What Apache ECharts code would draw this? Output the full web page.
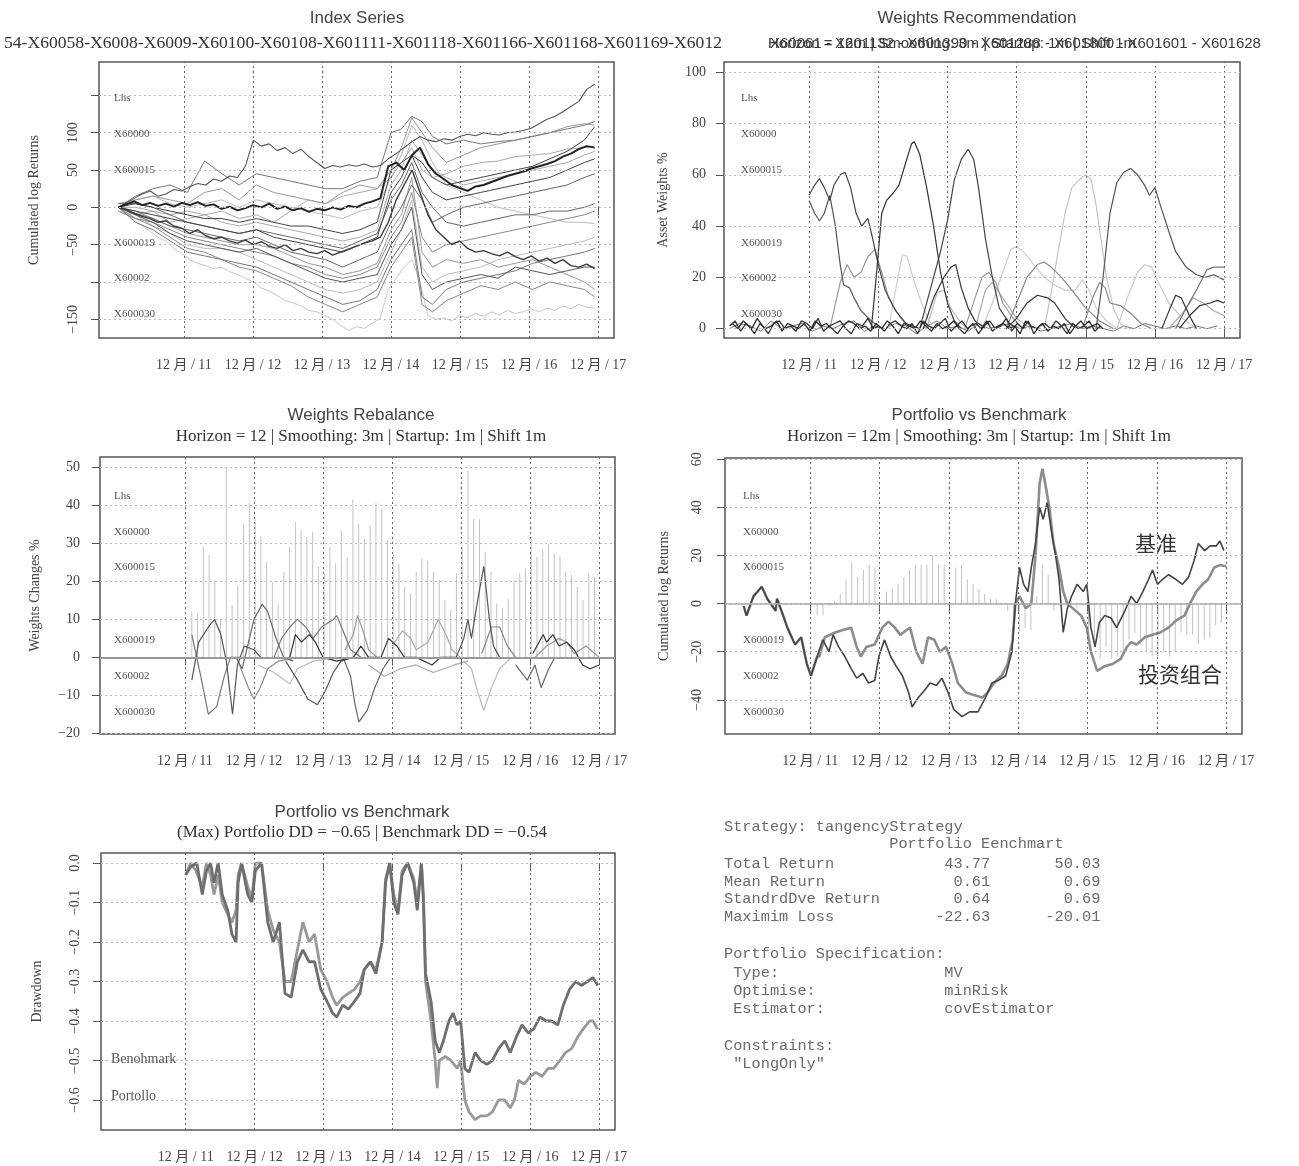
<!DOCTYPE html>
<html><head><meta charset="utf-8">
<script src="https://cdn.jsdelivr.net/npm/echarts@6/dist/echarts.min.js"></script>
<style>html,body{margin:0;padding:0;background:#fff}#c{width:1299px;height:1166px}</style>
</head><body><div id="c"></div><script>
// ---------------- DATA ----------------
const xTickYears = [11, 12, 13, 14, 15, 16, 17];

// Panel 1: Index Series (cumulated log returns)
const idxDates = [10.05,10.3,10.55,10.8,11.05,11.3,11.55,11.8,12.05,12.3,12.55,12.8,13.05,13.3,13.55,13.8,14.0,14.15,14.3,14.45,14.6,14.8,15.05,15.3,15.55,15.8,16.05,16.3,16.55,16.8,16.95];
const idxFineStart = 10.05, idxFineStep = 0.115;
const idxA = [0,6,12,18,22,15,18,24,22,28,32,30,38,35,42,40,55,90,82,85,76,80,72,78,68,60,52,56,54,57,55,58,54,56,65,72,80,88,95,90,88,92,90,95,98,96,100,98,97,100,101,103,106,112,118,122,128,135,142,158,165];
const idxC = [0,4,8,3,6,2,5,1,6,3,7,2,4,-2,1,-4,-1,3,0,5,-2,1,-4,-1,-6,-2,-4,0,-3,2,0,5,8,12,55,60,50,70,80,58,45,38,30,26,22,28,30,34,38,42,45,48,52,55,58,62,68,72,78,82,80];
const idxK = [0,-8,-18,-25,-32,-40,-45,-55,-62,-70,-75,-78,-82,-80,-86,-90,-95,-100,-108,-112,-118,-125,-128,-132,-138,-140,-145,-150,-158,-165,-160,-162,-155,-148,-110,-95,-80,-70,-100,-145,-150,-148,-152,-145,-148,-142,-146,-140,-144,-138,-142,-140,-136,-140,-135,-138,-132,-136,-130,-134,-135];
const idxS = [0,-3,-8,-12,-15,-20,-18,-25,-28,-35,-30,-38,-42,-40,-45,-48,-44,-50,-46,-52,-55,-50,-58,-55,-60,-62,-58,-64,-60,-56,-52,-48,-45,-40,-20,10,30,50,20,-10,-30,-40,-50,-45,-55,-60,-58,-62,-65,-60,-66,-70,-65,-72,-68,-75,-70,-78,-80,-76,-82];
const idxB = [0,15,25,30,20,62,45,30,45,40,35,30,25,25,35,40,100,105,122,115,95,85,90,85,88,90,95,100,105,110,115];
const idxD = [5,10,15,10,5,20,25,10,30,20,15,10,5,20,30,25,50,80,120,100,80,60,70,80,85,90,95,100,108,112,110];
const idxE = [0,-5,-10,-15,-20,-25,-30,-35,-30,-40,-45,-50,-55,-60,-50,-40,20,40,70,60,40,30,35,40,45,50,55,65,75,90,108];
const idxF = [0,-10,-5,-20,-15,-10,-5,-15,-10,-20,-5,10,5,15,20,25,40,60,80,50,40,45,55,60,62,68,70,72,78,80,82];
const idxG = [0,-8,-15,-25,-30,-35,-40,-45,-40,-50,-60,-65,-70,-80,-70,-60,-20,0,30,10,-20,-10,0,5,10,15,20,25,30,40,45];
const idxH = [-5,-15,-20,-30,-40,-45,-50,-55,-60,-65,-75,-80,-90,-95,-90,-80,-40,-20,20,-40,-60,-50,-45,-40,-35,-30,-25,-20,-15,-10,-5];
const idxI = [-5,-10,-25,-35,-50,-55,-55,-60,-70,-80,-90,-100,-110,-115,-110,-100,-60,-30,10,-80,-100,-90,-85,-80,-70,-65,-60,-55,-50,-45,-40];
const idxJ = [0,-20,-30,-45,-60,-65,-70,-75,-80,-90,-100,-110,-120,-130,-125,-110,-70,-50,-30,-120,-130,-110,-100,-95,-90,-85,-75,-70,-65,-60,-55];
const idxL = [0,-10,-20,-35,-45,-50,-55,-60,-55,-65,-75,-85,-95,-100,-95,-90,-50,-30,0,-90,-110,-100,-95,-90,-95,-80,-85,-90,-85,-80,-80];
const idxM = [0,-5,-15,-25,-35,-40,-45,-50,-50,-55,-65,-75,-80,-90,-85,-75,-30,-10,40,-60,-80,-70,-75,-70,-80,-75,-70,-80,-90,-100,-110];
const idxN = [5,5,0,-10,-20,-25,-30,-35,-30,-35,-40,-45,-50,-55,-45,-35,10,30,60,20,0,-20,-25,-20,-15,-10,-10,-5,-5,0,5];
const idxO = [0,0,-5,-10,-5,-10,-20,-25,-20,-25,-30,-35,-40,-45,-40,-30,30,50,90,70,50,40,30,35,40,45,50,55,60,70,75];
const idxP = [0,10,15,5,0,5,10,0,10,5,0,-5,-10,-15,-5,0,40,70,110,90,60,30,20,10,0,-5,-10,-15,-20,-20,-22];
const idxQ = [0,-15,-25,-40,-55,-60,-70,-80,-85,-95,-105,-120,-130,-140,-130,-120,-80,-60,-40,-130,-140,-125,-115,-105,-110,-100,-110,-100,-105,-110,-120];
const idxR = [0,5,0,-5,-10,-15,-15,-20,-15,-20,-25,-25,-30,-35,-30,-20,50,60,70,40,20,10,15,20,25,30,35,40,50,60,65];

// Panel 2: Weights Recommendation (asset weights %)
const wNoiseStart = 9.85;
const wNoiseA = [1,3,-1,2,0,4,1,-2,2,3,0,1,-1,3,2,0,4,-1,1,2,3,0,-2,2,1,4,0,1,-1,2,3,1,0,2,-2,3,1,0,2,4,-1,1,3,0,2,-2,1,3,0,1,4,-1,2,0,3,-2,1,2,0,3,1,-2,2,0,1,3,-1,1];
const wNoiseC = [2,0,3,1,-2,2,0,1,3,-1,2,1,0,2,-1,3,1,2,0,-2,1,3,2,0,1,-1,2,0,3,1,-2,2,1,0,3,1,-1,2,0,1,3,0,-2,1,2,0,3,-1,1,2,0,1,-2,3,1,0,2,-1,1,0,2,-2,1,3,0,1,2,0];
const wNoiseB = [0,2,1,-1,3,0,1,2,-1,1,0,2,3,-1,1,0,2,1,-2,1,3,0,1,-1,2,0,1,2,0,1,-1,0,1,2,0,1,0,-1,1,0,2,1,0,1,0,1,0,1];
const wRec1 = [[11.0,52],[11.08,56],[11.15,58.5],[11.22,55],[11.3,50],[11.36,56],[11.45,60],[11.52,61],[11.6,55],[11.68,45],[11.76,40],[11.85,43],[11.92,35],[12.0,25],[12.1,15],[12.25,7],[12.4,2],[12.6,0]];
const wRec2 = [[11.0,50],[11.08,45],[11.15,42],[11.22,45],[11.3,52],[11.38,40],[11.45,25],[11.5,17],[11.58,16],[11.65,12],[11.75,7],[11.9,3],[12.05,0]];
const wRec3 = [[11.9,0],[11.97,20],[12.05,45],[12.12,50],[12.22,53],[12.3,56],[12.4,65],[12.48,72],[12.52,73],[12.6,68],[12.7,55],[12.8,40],[12.9,22],[13.0,10],[13.1,3],[13.2,0]];
const wRec4 = [[12.6,0],[12.75,15],[12.9,30],[13.0,42],[13.1,58],[13.2,66],[13.3,70],[13.38,66],[13.45,55],[13.55,35],[13.65,20],[13.75,8],[13.9,2],[14.0,0]];
const wRec5 = [[14.4,0],[14.5,14],[14.6,30],[14.7,45],[14.8,55],[14.9,58],[15.0,60],[15.08,58],[15.15,48],[15.22,35],[15.3,20],[15.4,8],[15.5,2],[15.6,0]];
const wRec6 = [[15.15,0],[15.25,20],[15.35,45],[15.45,57],[15.55,61],[15.65,62.5],[15.75,60],[15.85,56],[15.92,52],[16.0,55],[16.08,48],[16.2,38],[16.3,30],[16.45,24],[16.6,21],[16.72,20],[16.85,21],[17.0,19]];
const wRec7 = [[12.15,0],[12.25,15],[12.35,29],[12.42,28],[12.5,20],[12.6,12],[12.7,5],[12.8,0]];
const wRec8 = [[11.3,0],[11.45,18],[11.55,25],[11.65,20],[11.75,22],[11.85,28],[11.95,31],[12.05,22],[12.15,12],[12.3,5],[12.45,0]];
const wRec9 = [[13.5,0],[13.65,10],[13.8,22],[13.92,31],[14.0,32],[14.1,30],[14.25,25],[14.4,20],[14.55,17],[14.7,15],[14.85,15],[14.95,19],[15.05,15],[15.15,8],[15.3,3],[15.45,0]];
const wRec10 = [[13.85,0],[14.0,10],[14.15,20],[14.3,25],[14.4,26],[14.5,24],[14.65,20],[14.8,15],[15.0,8],[15.2,3],[15.4,0]];
const wRec11 = [[12.65,0],[12.8,12],[12.95,20],[13.05,24],[13.12,25],[13.2,16],[13.3,8],[13.4,3],[13.55,0]];
const wRec12 = [[13.85,0],[14.0,4],[14.15,10],[14.3,13],[14.45,12],[14.55,10],[14.7,4],[14.85,0]];
const wRec13 = [[15.45,0],[15.6,12],[15.75,22],[15.85,25],[15.95,24],[16.05,18],[16.2,10],[16.4,4],[16.6,0]];
const wRec14 = [[16.1,0],[16.22,8],[16.3,13],[16.38,12],[16.5,5],[16.6,0]];
const wRec15 = [[16.35,0],[16.5,5],[16.65,9],[16.8,10],[16.9,11],[17.0,10]];
const wRec16 = [[13.25,0],[13.4,12],[13.5,20],[13.6,22],[13.7,18],[13.8,10],[13.95,4],[14.1,0]];
const wRec17 = [[14.95,0],[15.1,12],[15.2,18],[15.28,16],[15.35,10],[15.5,9],[15.65,6],[15.8,2],[15.95,0]];
const wRec18 = [[16.2,0],[16.4,6],[16.55,12],[16.7,10],[16.85,7],[17.0,5]];
const wRec19 = [[16.3,0],[16.45,8],[16.6,15],[16.75,23],[16.85,24],[17.0,24]];
const wRec20 = [[12.7,0],[12.85,14],[12.95,15],[13.05,8],[13.2,2],[13.3,0]];
const wRec21 = [[13.4,0],[13.55,15],[13.65,18],[13.8,12],[14.0,4],[14.2,0]];

// Panel 3: Weights Rebalance
const monthStart = 11.1;
const rebSpikes = [12,11.6,29.3,27,20,10.3,50.2,13.8,18.8,35.3,40.6,36.6,32,25.2,19.7,14.2,22.6,29.1,35.7,33.5,31.8,33.1,23.9,22.1,29.1,24.8,33.5,26.5,41.6,35.3,31.3,34.9,40.6,39.2,30.9,27,24.8,18.6,16.9,22.6,26.1,25.5,22.6,20.4,15.1,12.5,22.1,29.1,49.2,36.6,36.3,27.8,22.6,14.2,12.9,15.3,20.4,22.1,23.4,31.8,26.5,28.3,30,27.4,26.5,22.6,21.7,18.6,15.1,22.1,21.2];
const rebL1 = [[11.1,6],[11.23,-5],[11.34,-15],[11.46,-13],[11.57,-5],[11.66,0],[11.83,0]];
const rebL2 = [[11.1,-6],[11.2,4],[11.34,8],[11.43,10],[11.52,6],[11.6,-1],[11.69,-15],[11.76,-2],[11.86,3],[12.0,2],[12.1,0]];
const rebL3 = [[11.74,0],[11.83,-3],[12.0,10],[12.12,14],[12.2,12],[12.32,5],[12.43,0],[12.57,-1]];
const rebL4 = [[11.77,-1],[11.92,-8],[12.0,-11],[12.09,-8],[12.2,-3],[12.35,-1],[12.63,0]];
const rebL5 = [[12.29,0],[12.4,5],[12.52,8],[12.63,10],[12.75,8],[12.86,5],[12.98,8],[13.15,10],[13.2,11],[13.29,7],[13.4,2],[13.55,0]];
const rebL6 = [[12.46,-1],[12.63,-6],[12.78,-11],[12.92,-12.5],[13.03,-9],[13.15,-4],[13.26,-1],[13.43,0]];
const rebL7 = [[13.29,0],[13.4,-5],[13.46,-12],[13.52,-17],[13.64,-14],[13.75,-8],[13.87,-3],[13.98,0]];
const rebL8 = [[13.32,2],[13.44,6],[13.5,11],[13.58,7],[13.66,2],[13.78,0]];
const rebL9 = [[12.52,0],[12.6,6],[12.69,4],[12.8,6],[12.89,4],[13.0,0],[13.2,-1],[13.44,0],[13.55,3],[13.66,0],[13.84,0],[13.95,5],[14.07,3],[14.18,0],[14.35,0],[14.58,-2],[14.7,0],[14.93,0]];
const rebL10 = [[14.0,3],[14.15,7],[14.27,5],[14.35,2],[14.52,4],[14.67,10],[14.78,6],[14.87,2],[14.99,0]];
const rebL11 = [[14.93,0],[15.04,5],[15.1,10],[15.15,5],[15.24,15],[15.33,24],[15.41,10],[15.47,3],[15.56,0]];
const rebL12 = [[15.04,-1],[15.15,-3],[15.24,-9],[15.33,-14],[15.44,-8],[15.56,-3],[15.73,0]];
const rebL13 = [[15.3,1],[15.44,8],[15.56,8],[15.67,3],[15.79,0]];
const rebL14 = [[15.79,-2],[15.96,-6],[16.07,-2],[16.16,-8],[16.27,-3],[16.36,0]];
const rebL15 = [[16.04,1],[16.19,6],[16.24,4],[16.33,6],[16.42,3],[16.53,4],[16.64,2],[16.76,-2],[16.87,-3],[17.0,-2]];
const rebL16 = [[16.07,0],[16.24,3],[16.42,5],[16.53,4],[16.64,1],[16.81,3],[17.0,0]];
const rebL17 = [[12.06,-2],[12.29,-4],[12.52,-7],[12.63,-3],[12.86,-1],[13.2,0]];
const rebL18 = [[13.66,-2],[13.89,-5],[14.12,-3],[14.35,-2],[14.6,-4],[14.9,-2],[15.1,-1]];

// Panel 4: Portfolio vs Benchmark (cumulated log returns)
const pvbSpikes = [-5,-5,-1,1,4,10,17,11,14,16,15,0,5,6,8,11,14,16,16,16,20,16,16,0,15,16,10,8,6,4,2,2,0,-3,-10,-12,-10,-11,3,16,12,-3,0,2,1,-2,-1,-15,-17,-23,-18,-23,-22,-20,-15,-12,-17,-20,-22,-22,-20,-22,-20,-12,-13,-13,-17,-15,-14,-9,-8];
const benchDates = [10.04,10.08,10.18,10.3,10.38,10.5,10.52,10.61,10.67,10.78,10.87,10.95,11.01,11.1,11.18,11.27,11.33,11.41,11.5,11.59,11.67,11.76,11.84,11.93,11.99,12.07,12.16,12.24,12.33,12.42,12.47,12.56,12.65,12.73,12.82,12.9,12.99,13.07,13.19,13.3,13.42,13.53,13.62,13.71,13.82,13.91,13.96,14.02,14.08,14.14,14.19,14.25,14.31,14.36,14.42,14.48,14.54,14.59,14.65,14.71,14.77,14.85,14.94,14.99,15.05,15.11,15.17,15.25,15.34,15.42,15.54,15.63,15.71,15.8,15.88,15.94,16.01,16.08,16.17,16.28,16.37,16.46,16.54,16.6,16.69,16.77,16.86,16.91,16.97];
const benchVals = [-1,-5,3,7,2,-3,2,-5,-10,-17,-14,-25,-30,-22,-15,-20,-13,-18,-22,-27,-31,-29,-33,-32,-22,-15,-22,-26,-30,-37,-43,-39,-36,-33,-34,-31,-37,-44,-47,-45,-45,-39,-33,-32,-30,-20,0,15,8,5,15,25,40,35,42,30,20,10,-12,-2,3,8,5,8,-10,-18,-8,-5,-6,-10,-3,3,0,5,10,14,8,10,12,10,8,11,18,25,22,24,24,26,22];
const portDates = [10.04,10.08,10.18,10.3,10.38,10.5,10.52,10.61,10.67,10.78,10.87,10.95,11.01,11.1,11.13,11.21,11.36,11.47,11.59,11.67,11.73,11.81,11.93,12.04,12.13,12.22,12.3,12.39,12.44,12.53,12.62,12.7,12.79,12.87,12.96,13.05,13.13,13.25,13.36,13.48,13.56,13.65,13.76,13.85,13.92,13.96,14.02,14.11,14.19,14.25,14.31,14.35,14.39,14.45,14.51,14.59,14.65,14.71,14.79,14.91,14.99,15.05,15.14,15.25,15.37,15.48,15.57,15.63,15.71,15.83,15.94,16.05,16.17,16.28,16.4,16.48,16.57,16.66,16.74,16.83,16.91,17.0];
const portVals = [-1,-5,3,7,2,-3,2,-5,-10,-17,-14,-25,-30,-22,-22,-14,-12,-11,-10,-18,-22,-18,-17,-10,-7.5,-10,-13,-11,-10,-20,-25,-14,-15,-20,-18,-25,-33,-37,-38,-39,-37,-33,-30,-25,-15,0,3,-2,0,20,50,56,50,40,25,15,5,0,-2,-5,-10,-20,-28,-26,-25,-23,-18,-16,-17,-14,-13,-12,-10,-7,-5,0,5,8,10,15,16,15.5];

// Panel 5: Drawdowns
const ddBenchDates = [11.0,11.07,11.16,11.24,11.3,11.36,11.41,11.47,11.53,11.61,11.67,11.73,11.76,11.81,11.9,11.96,12.01,12.1,12.19,12.27,12.36,12.44,12.53,12.62,12.7,12.79,12.87,12.96,13.05,13.13,13.19,13.28,13.36,13.45,13.53,13.59,13.68,13.76,13.85,13.9,13.96,14.02,14.08,14.14,14.22,14.31,14.36,14.42,14.45,14.48,14.56,14.62,14.68,14.74,14.82,14.88,14.94,14.99,15.05,15.11,15.2,15.28,15.37,15.45,15.54,15.63,15.71,15.8,15.88,15.97,16.05,16.14,16.23,16.31,16.4,16.48,16.57,16.66,16.74,16.83,16.91,16.98];
const ddBench = [-0.03,-0.01,0,-0.08,-0.02,0,-0.05,0,-0.08,-0.12,-0.18,-0.2,-0.05,0,-0.08,-0.1,-0.02,0,-0.15,-0.2,-0.15,-0.33,-0.34,-0.25,-0.22,-0.25,-0.25,-0.32,-0.35,-0.38,-0.39,-0.36,-0.37,-0.35,-0.33,-0.27,-0.25,-0.28,-0.2,-0.05,0,-0.1,-0.13,-0.03,0,-0.05,-0.12,0,-0.1,-0.28,-0.35,-0.45,-0.48,-0.45,-0.4,-0.38,-0.41,-0.4,-0.52,-0.53,-0.48,-0.5,-0.51,-0.5,-0.47,-0.45,-0.48,-0.44,-0.41,-0.43,-0.42,-0.39,-0.4,-0.4,-0.41,-0.36,-0.32,-0.3,-0.31,-0.3,-0.29,-0.31];
const ddPortDates = [11.0,11.07,11.15,11.24,11.3,11.36,11.41,11.47,11.53,11.61,11.67,11.73,11.76,11.81,11.9,11.96,12.01,12.1,12.19,12.27,12.36,12.44,12.53,12.62,12.7,12.79,12.87,12.96,13.05,13.13,13.19,13.28,13.36,13.45,13.53,13.59,13.68,13.76,13.85,13.9,13.96,14.02,14.08,14.14,14.22,14.31,14.36,14.42,14.45,14.48,14.56,14.62,14.65,14.68,14.77,14.85,14.94,14.99,15.05,15.11,15.2,15.28,15.37,15.45,15.54,15.63,15.71,15.77,15.83,15.91,16.0,16.08,16.17,16.26,16.34,16.43,16.51,16.6,16.69,16.77,16.86,16.91,16.98];
const ddPort = [-0.03,0,-0.02,-0.06,0,-0.03,-0.08,-0.03,-0.1,-0.13,-0.15,-0.12,-0.03,0,-0.06,-0.09,0,0,-0.12,-0.17,-0.2,-0.3,-0.3,-0.22,-0.15,-0.2,-0.18,-0.27,-0.3,-0.34,-0.36,-0.34,-0.33,-0.32,-0.3,-0.27,-0.25,-0.27,-0.2,-0.04,0,-0.08,-0.12,-0.02,0,-0.04,-0.1,0,-0.08,-0.3,-0.4,-0.5,-0.57,-0.5,-0.49,-0.5,-0.52,-0.5,-0.6,-0.63,-0.65,-0.64,-0.64,-0.63,-0.6,-0.6,-0.62,-0.6,-0.55,-0.56,-0.54,-0.53,-0.54,-0.52,-0.52,-0.5,-0.48,-0.47,-0.44,-0.42,-0.4,-0.4,-0.42];

// Text block
const statStrategy = 'Strategy: tangencyStrategy';
const statHeader = ['Portfolio', 'Eenchmart'];
const statRows = ['Total Return', 'Mean Return', 'StandrdDve Return', 'Maximim Loss'];
const statPortfolio = ['43.77', '0.61', '0.64', '-22.63'];
const statBenchmark = ['50.03', '0.69', '0.69', '-20.01'];
const specRows = ['Type:', 'Optimise:', 'Estimator:'];
const specVals = ['MV', 'minRisk', 'covEstimator'];
const constraintVals = ['"LongOnly"'];

// ---------------- CHART ----------------
const SERIF = "'Liberation Serif','Times New Roman','Noto Sans CJK SC',serif";
const SANS = "'Liberation Sans',Arial,sans-serif";
const MONO = "'Liberation Mono','Courier New',monospace";
const LAB = '#444';
const minus = v => String(v).replace('-', '\u2212');

const grids = [
  {left: 99, top: 62, width: 515, height: 276},
  {left: 724, top: 62, width: 516, height: 276},
  {left: 100, top: 457, width: 515, height: 277},
  {left: 725, top: 458, width: 517, height: 276},
  {left: 101, top: 853, width: 514, height: 277}
].map(g => Object.assign({show: true, borderColor: '#555', borderWidth: 1.5, backgroundColor: 'transparent'}, g));

function xAx(g) {
  return {type: 'value', gridIndex: g, min: 9.77, max: 17.23,
    axisLine: {show: false}, splitLine: {show: false},
    axisTick: {show: true, customValues: xTickYears, length: 8, lineStyle: {color: '#555'}},
    axisLabel: {customValues: xTickYears, formatter: v => '12 月 / ' + v, margin: 20,
      fontFamily: SERIF, fontSize: 14, color: LAB}};
}
function yAx(g, min, max, ticks, labels, rotate, fmt, name, nameGap, margin) {
  return {type: 'value', gridIndex: g, min: min, max: max,
    axisLine: {show: false}, splitLine: {show: false},
    axisTick: {show: true, customValues: ticks, length: 8, lineStyle: {color: '#555'}},
    axisLabel: {customValues: labels, rotate: rotate, formatter: fmt, margin: margin,
      fontFamily: SERIF, fontSize: 14, color: LAB},
    name: name, nameLocation: 'middle', nameGap: nameGap,
    nameTextStyle: {fontFamily: SERIF, fontSize: 14, color: LAB}};
}

const xAxes = [0, 1, 2, 3, 4].map(xAx);
const yAxes = [
  yAx(0, -175, 194.7, [-150,-100,-50,0,50,100,150], [-150,-50,0,50,100], 90, minus, 'Cumulated log Returns', 58, 19),
  yAx(1, -3.66, 104, [0,20,40,60,80,100], [0,20,40,60,80,100], 0, minus, 'Asset Weights %', 54, 18),
  yAx(2, -20.2, 52.8, [-20,-10,0,10,20,30,40,50], [-20,-10,0,10,20,30,40,50], 0, minus, 'Weights Changes %', 58, 20),
  yAx(3, -54.2, 60.5, [-40,-20,0,20,40,60], [-40,-20,0,20,40,60], 90, minus, 'Cumulated log Returns', 54, 21),
  yAx(4, -0.676, 0.0254, [0,-0.1,-0.2,-0.3,-0.4,-0.5,-0.6], [0,-0.1,-0.2,-0.3,-0.4,-0.5,-0.6], 90, v => minus(v.toFixed(1)), 'Drawdown', 57, 19)
];

const series = [];
function gridLines(g, hs) {
  const data = xTickYears.map(v => ({xAxis: v, lineStyle: {color: '#666', type: [2, 3], width: 1}}))
    .concat(hs.map(v => ({yAxis: v, lineStyle: {color: '#bbb', type: [2, 3], width: 1}})));
  series.push({type: 'line', xAxisIndex: g, yAxisIndex: g, data: [], z: 1, silent: true,
    markLine: {silent: true, symbol: ['none', 'none'], label: {show: false}, animation: false, data: data}});
}
function zeroLine(g, color, width) {
  series.push({type: 'line', xAxisIndex: g, yAxisIndex: g, data: [], z: 2, silent: true,
    markLine: {silent: true, symbol: ['none', 'none'], label: {show: false}, animation: false,
      data: [{yAxis: 0, lineStyle: {color: color, type: 'solid', width: width}}]}});
}
function line(g, data, color, width, z) {
  series.push({type: 'line', xAxisIndex: g, yAxisIndex: g, data: data, symbol: 'none', silent: true,
    lineStyle: {color: color, width: width || 1}, itemStyle: {color: color}, z: z || 3, animation: false});
}
function bars(g, data, color) {
  series.push({type: 'bar', xAxisIndex: g, yAxisIndex: g, data: data, barWidth: 1, silent: true,
    itemStyle: {color: color}, z: 2, animation: false});
}
const zipDates = (dates, vals) => vals.map((v, i) => [dates[i], v]);
const fineDates = vals => vals.map((v, i) => [idxFineStart + i * idxFineStep, v]);
const monthly = vals => vals.map((v, i) => [monthStart + i / 12, v]);

// Panel 1
gridLines(0, [-150,-100,-50,0,50,100,150]);
line(0, fineDates(idxK), '#c8c8c8', 1);
[[idxI,'#bbb'],[idxP,'#bbb'],[idxF,'#aaa'],[idxO,'#aaa'],[idxD,'#999'],[idxM,'#999'],
 [idxH,'#888'],[idxQ,'#888'],[idxB,'#777'],[idxJ,'#777'],[idxG,'#666'],[idxN,'#666'],
 [idxL,'#555'],[idxE,'#444'],[idxR,'#444']].forEach(p => line(0, zipDates(idxDates, p[0]), p[1], 1));
line(0, fineDates(idxS), '#3a3a3a', 1.4);
line(0, fineDates(idxA), '#555', 1.1);
line(0, fineDates(idxC), '#222', 2, 4);

// Panel 2
gridLines(1, [0,20,40,60,80,100]);
line(1, wNoiseB.map((v, i) => [wNoiseStart + i * 0.15, v]), '#777', 1);
[[wRec5,'#c4c4c4'],[wRec7,'#ccc'],[wRec9,'#ccc'],[wRec13,'#c8c8c8'],[wRec20,'#bbb'],[wRec18,'#aaa'],[wRec21,'#aaa'],
 [wRec8,'#999'],[wRec16,'#999'],[wRec10,'#888'],[wRec17,'#888'],[wRec19,'#777'],[wRec2,'#555'],[wRec6,'#555'],
 [wRec1,'#444'],[wRec4,'#444'],[wRec3,'#333'],[wRec11,'#333'],[wRec12,'#333'],[wRec14,'#333'],[wRec15,'#333']]
  .forEach(p => line(1, p[0], p[1], 1.2));
line(1, wNoiseA.map((v, i) => [wNoiseStart + i * 0.08, v]), '#333', 1.3, 4);
line(1, wNoiseC.map((v, i) => [wNoiseStart + 0.04 + i * 0.08, v]), '#2a2a2a', 1.3, 4);

// Panel 3
gridLines(2, [-20,-10,0,10,20,30,40,50]);
zeroLine(2, '#999', 2);
bars(2, monthly(rebSpikes), '#c2c2c2');
[[rebL12,'#bbb'],[rebL17,'#bbb'],[rebL10,'#aaa'],[rebL18,'#aaa'],[rebL8,'#999'],[rebL16,'#999'],[rebL4,'#8a8a8a'],
 [rebL13,'#888'],[rebL1,'#777'],[rebL5,'#777'],[rebL3,'#666'],[rebL7,'#666'],[rebL14,'#666'],[rebL2,'#555'],
 [rebL6,'#555'],[rebL11,'#555'],[rebL9,'#333'],[rebL15,'#333']].forEach(p => line(2, p[0], p[1], 1.2));

// Panel 4
gridLines(3, [-40,-20,0,20,40,60]);
zeroLine(3, '#aaa', 1.5);
bars(3, monthly(pvbSpikes), '#c2c2c2');
line(3, zipDates(portDates, portVals), '#8c8c8c', 2.6);
line(3, zipDates(benchDates, benchVals), '#444', 1.6, 4);

// Panel 5
gridLines(4, [0,-0.1,-0.2,-0.3,-0.4,-0.5,-0.6]);
line(4, zipDates(ddPortDates, ddPort), '#999', 2.8);
line(4, zipDates(ddBenchDates, ddBench), '#6e6e6e', 2.8, 4);

// ---------------- TEXT ----------------
const T = (text, x, y, font, size, color, align, extra) => Object.assign({type: 'text', x: x, y: y, silent: true, z: 10,
  style: {text: text, fill: color, fontFamily: font, fontSize: size, align: align || 'left', verticalAlign: 'middle'}}, extra || {});
const graphics = [];
graphics.push(T('Index Series', 357, 18, SANS, 17, '#444', 'center'));
graphics.push(T('54-X60058-X6008-X6009-X60100-X60108-X601111-X601118-X601166-X601168-X601169-X6012', 722, 43, SERIF, 17.6, '#333', 'right'));
graphics.push(T('Weights Recommendation', 977, 18, SANS, 17, '#444', 'center'));
graphics.push(T('Horizon = 12m | Smoothing: 3m | Startup: 1m | Shift 1m', 768, 44, SANS, 15, '#3a3a3a', 'left'));
graphics.push(T('X60061 - X601132 - X601390 - X601288 - X601800 - X601601 - X601628', 770, 44, SANS, 15, '#3a3a3a', 'left'));
graphics.push(T('Weights Rebalance', 361, 415, SANS, 17, '#444', 'center'));
graphics.push(T('Horizon = 12 | Smoothing: 3m | Startup: 1m | Shift 1m', 361, 437, SERIF, 17, '#333', 'center'));
graphics.push(T('Portfolio vs Benchmark', 979, 415, SANS, 17, '#444', 'center'));
graphics.push(T('Horizon = 12m | Smoothing: 3m | Startup: 1m | Shift 1m', 979, 437, SERIF, 17, '#333', 'center'));
graphics.push(T('Portfolio vs Benchmark', 362, 812, SANS, 17, '#444', 'center'));
graphics.push(T('(Max) Portfolio DD = \u22120.65 | Benchmark DD = \u22120.54', 362, 833, SERIF, 17, '#333', 'center'));

const strayNames = ['Lhs', 'X60000', 'X600015', 'X600019', 'X60002', 'X600030'];
const strayTop = [97.7, 134, 170, 242.7, 278, 314];
const strayMid = [495.7, 531.7, 566.7, 640, 676, 711.7];
strayNames.forEach((s, i) => {
  graphics.push(T(s, 114, strayTop[i], SERIF, 11, '#555'));
  graphics.push(T(s, 741, strayTop[i], SERIF, 11, '#555'));
  graphics.push(T(s, 114, strayMid[i], SERIF, 11, '#555'));
  graphics.push(T(s, 743, strayMid[i], SERIF, 11, '#555'));
});
graphics.push(T('Benohmark', 111, 1059, SERIF, 14, '#555'));
graphics.push(T('Portollo', 111, 1096, SERIF, 14, '#555'));
graphics.push(T('基准', 1156, 543, "'Noto Sans CJK SC',sans-serif", 21, '#333', 'center'));
graphics.push(T('投资组合', 1180, 674, "'Noto Sans CJK SC',sans-serif", 21, '#333', 'center'));

const mono = [];
mono.push([statStrategy, 826.7]);
mono.push([' '.repeat(18) + statHeader.join(' '), 844.3]);
const rowY = [864.3, 881.7, 899.3, 916.7];
statRows.forEach((r, i) => mono.push([r.padEnd(23) + statPortfolio[i].padStart(6) + statBenchmark[i].padStart(12), rowY[i]]));
mono.push(['Portfolio Specification:', 954]);
const specY = [973.3, 991, 1009];
specRows.forEach((r, i) => mono.push([(' ' + r).padEnd(24) + specVals[i], specY[i]]));
mono.push(['Constraints:', 1045.7]);
mono.push([' ' + constraintVals[0], 1064]);
mono.forEach(m => graphics.push(T(m[0], 724, m[1], MONO, 15.3, '#6a6a6a')));

const chart = echarts.init(document.getElementById('c'), null, {renderer: 'canvas'});
chart.setOption({
  animation: false,
  backgroundColor: '#fff',
  grid: grids, xAxis: xAxes, yAxis: yAxes, series: series, graphic: graphics
});
</script></body></html>
